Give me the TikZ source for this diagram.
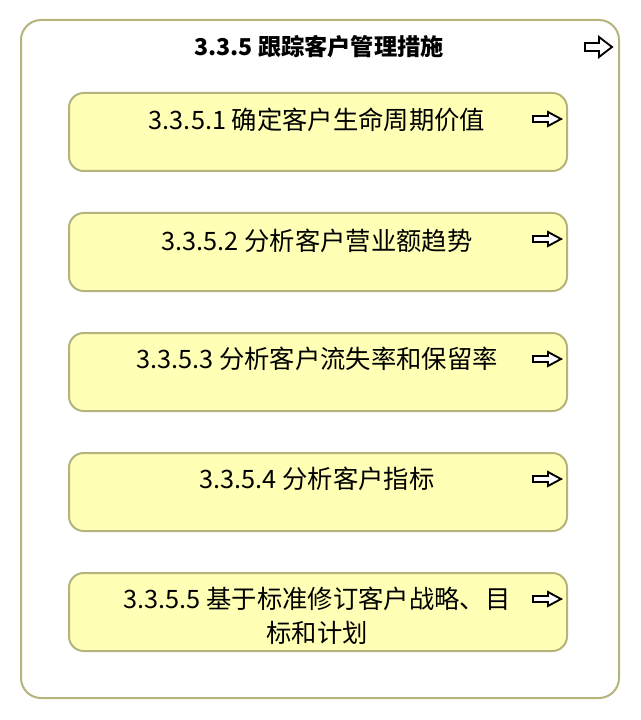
\documentclass[tikz,border=0pt]{standalone}
\usepackage{fontspec}
\setmainfont{Noto Sans CJK SC}
\begin{document}
\begin{tikzpicture}[x=0.75pt,y=-0.75pt,
  itembox/.style={draw=bordercol, fill=boxfill, line width=1.5pt, rounded corners=11pt},
  itemtext/.style={font=\fontsize{19}{25.5}\selectfont, align=center, inner sep=0pt},
  arrowicon/.style={draw=black, fill=white, line width=1.4pt, line join=miter}]
\definecolor{bordercol}{HTML}{B4B47C}
\definecolor{boxfill}{HTML}{FFFFB5}
\useasboundingbox (0,0) rectangle (640,720);
\draw[draw=bordercol, fill=white, line width=1.5pt, rounded corners=15pt] (21,20) rectangle (619,698);
\node[font=\bfseries\fontsize{17.4}{20}\selectfont, inner sep=0pt] (title) at (319,47) {3.3.5 跟踪客户管理措施};
% big arrow icon
\draw[arrowicon] (585,43) -- (599,43) -- (599,37) -- (612,47) -- (599,57) -- (599,51) -- (585,51) -- cycle;
\foreach \i/\t/\ty in {0/{3.3.5.1 确定客户生命周期价值}/120,1/{3.3.5.2 分析客户营业额趋势}/241,2/{3.3.5.3 分析客户流失率和保留率}/359,3/{3.3.5.4 分析客户指标}/479,4/{3.3.5.5 基于标准修订客户战略、目\\标和计划}/616}{
  \pgfmathsetmacro{\top}{93+120*\i}
  \draw[itembox] (69,\top) rectangle (567,\top+78);
  \node[itemtext] (t\i) at (317,\ty) {\t};
  \draw[arrowicon] (533,\top+23) -- (548,\top+23) -- (548,\top+19) -- (561,\top+26) -- (548,\top+33) -- (548,\top+29) -- (533,\top+29) -- cycle;
}
\end{tikzpicture}
\end{document}
